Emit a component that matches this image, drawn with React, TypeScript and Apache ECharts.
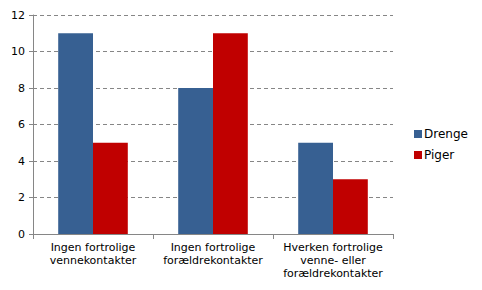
import React, { useEffect, useRef } from "react";
import * as echarts from "echarts";

const categories = [
  "Ingen fortrolige\nvennekontakter",
  "Ingen fortrolige\nforældrekontakter",
  "Hverken fortrolige\nvenne- eller\nforældrekontakter",
];
const drenge = [11, 8, 5];
const piger = [5, 11, 3];
const seriesNames = ["Drenge", "Piger"];

const FONT = "DejaVu Sans";

export default function App() {
  const ref = useRef<HTMLDivElement>(null);
  useEffect(() => {
    const chart = echarts.init(ref.current!, null, { renderer: "svg" });
    chart.setOption({
      animation: false,
      backgroundColor: "#ffffff",
      textStyle: { fontFamily: FONT },
      grid: { left: 33, right: 89, top: 15, bottom: 56, containLabel: false },
      legend: {
        orient: "vertical",
        left: 414,
        top: 128,
        padding: 0,
        itemWidth: 8,
        itemHeight: 8,
        itemGap: 9,
        icon: "rect",
        textStyle: { fontFamily: FONT, fontSize: 12, color: "#000", padding: [0, 0, 0, -3] },
        data: seriesNames,
      },
      xAxis: {
        type: "category",
        data: categories,
        axisLine: { lineStyle: { color: "#868686" } },
        axisTick: { show: true, length: 5, lineStyle: { color: "#868686" } },
        axisLabel: {
          interval: 0,
          fontFamily: FONT,
          fontSize: 11,
          color: "#000",
          lineHeight: 13,
          margin: 7,
        },
      },
      yAxis: {
        type: "value",
        min: 0,
        max: 12,
        interval: 2,
        axisLine: { show: true, lineStyle: { color: "#868686" } },
        axisTick: { show: true, length: 4, lineStyle: { color: "#868686" } },
        axisLabel: { fontFamily: FONT, fontSize: 11, color: "#000", margin: 8 },
        splitLine: { lineStyle: { color: "#868686", type: [4, 3] } },
      },
      series: [
        {
          name: seriesNames[0],
          type: "bar",
          data: drenge,
          itemStyle: { color: "#376092" },
          barGap: "0%",
          barCategoryGap: "42%",
        },
        {
          name: seriesNames[1],
          type: "bar",
          data: piger,
          itemStyle: { color: "#C00000" },
          barGap: "0%",
          barCategoryGap: "42%",
        },
      ],
    });
    return () => chart.dispose();
  }, []);
  return <div ref={ref} style={{ width: 482, height: 290, margin: -8 }} />;
}
